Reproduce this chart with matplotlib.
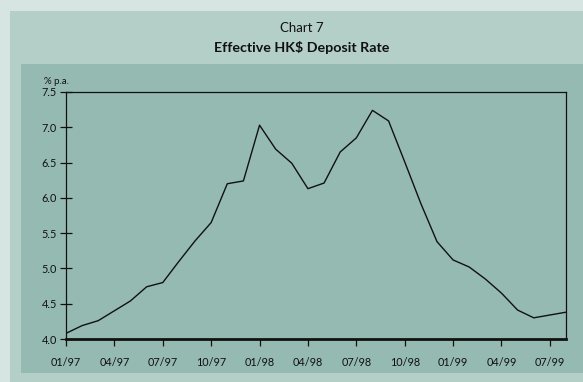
import matplotlib
matplotlib.use("Agg")
import matplotlib.pyplot as plt
from matplotlib.patches import Rectangle

plt.rcParams['font.family'] = ['Lato', 'DejaVu Sans']

# Monthly effective HK$ deposit rate, Jan 1997 - Aug 1999 (% p.a.)
months = list(range(32))
rates = [4.08, 4.19, 4.26, 4.40, 4.54, 4.74, 4.80, 5.10, 5.39, 5.65,
         6.20, 6.24, 7.03, 6.69, 6.49, 6.13, 6.21, 6.65, 6.85, 7.24,
         7.09, 6.51, 5.92, 5.38, 5.12, 5.02, 4.85, 4.65, 4.41, 4.30,
         4.34, 4.38]
tick_months = [0, 3, 6, 9, 12, 15, 18, 21, 24, 27, 30]
tick_labels = ["01/97", "04/97", "07/97", "10/97", "01/98", "04/98",
               "07/98", "10/98", "01/99", "04/99", "07/99"]
y_ticks = [4.0, 4.5, 5.0, 5.5, 6.0, 6.5, 7.0, 7.5]

W, H = 583, 382
fig = plt.figure(figsize=(W / 100, H / 100), dpi=100)
fig.patch.set_facecolor('#d6e5e2')

# outer frame panel and inner chart panel
fig.patches.append(Rectangle((10 / W, 0), 1, 1 - 11 / H, transform=fig.transFigure,
                             facecolor='#b3cfc8', edgecolor='none', zorder=0))
fig.patches.append(Rectangle((21 / W, 1 - 373 / H), 1, (373 - 64) / H,
                             transform=fig.transFigure,
                             facecolor='#95bab1', edgecolor='none', zorder=0))

ax = fig.add_axes([66 / W, 1 - 339 / H, (566 - 66) / W, (339 - 92) / H])
ax.set_zorder(2)
ax.set_facecolor('none')
ax.plot(months, rates, color='#111111', lw=1.0)

ax.set_xlim(0, 31)
ax.set_ylim(4.0, 7.5)
ax.set_xticks(tick_months)
ax.set_xticklabels(tick_labels)
ax.set_yticks(y_ticks)
ax.set_yticklabels([f"{v:.1f}" for v in y_ticks])

for side in ['top', 'right', 'left']:
    ax.spines[side].set_linewidth(0.9)
    ax.spines[side].set_color('#111111')
ax.spines['bottom'].set_linewidth(2.0)
ax.spines['bottom'].set_color('#111111')

ax.tick_params(axis='y', direction='inout', length=9, width=0.9,
               labelsize=7.8, pad=2, colors='#111111')
ax.tick_params(axis='x', direction='out', length=5, width=0.9,
               labelsize=7.8, pad=8, colors='#111111')

fig.text(56 / W, 1 - 81 / H, "% p.a.", fontsize=7, ha='center', va='center',
         color='#111111', zorder=3)
fig.text(302 / W, 1 - 28 / H, "Chart 7", fontsize=9.5, ha='center', va='center',
         color='#111111', zorder=3)
fig.text(302 / W, 1 - 47 / H, "Effective HK$ Deposit Rate", fontsize=10.3,
         fontweight='bold', ha='center', va='center', color='#111111', zorder=3)

fig.savefig("out.png", dpi=100, facecolor=fig.get_facecolor())
